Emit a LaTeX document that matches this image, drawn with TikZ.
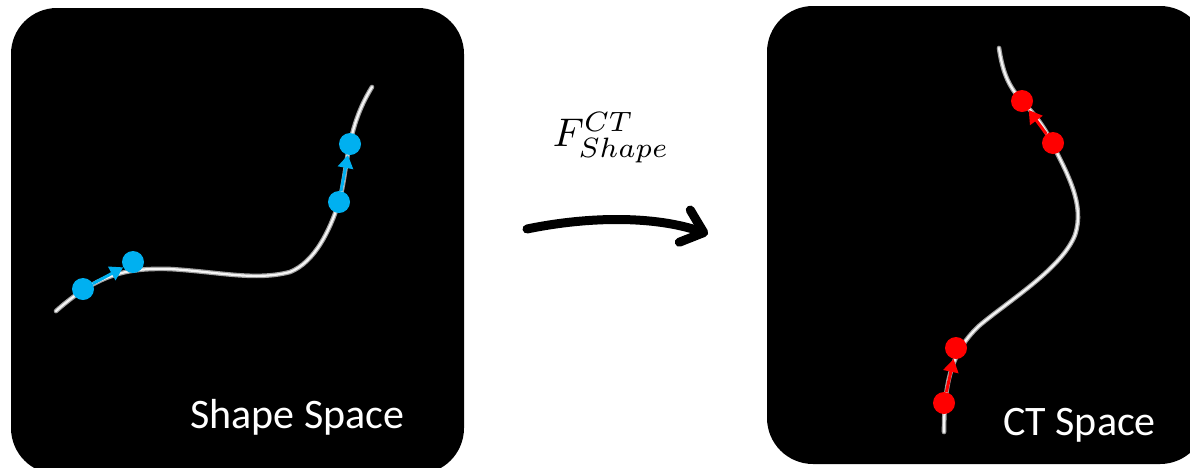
\documentclass[tikz,border=0pt]{standalone}
\usepackage{fontspec}
\setmainfont{Carlito}
\usetikzlibrary{arrows.meta}

\definecolor{dotblue}{HTML}{00B0F0}
\definecolor{dotred}{HTML}{FF0000}

\tikzset{
  panel/.style={fill=black, draw=none, rounded corners=46pt},
  tubeedge/.style={draw=gray!75, line width=4.6pt, line cap=round},
  tubecore/.style={draw=white!92!gray, line width=2.2pt, line cap=round},
  dotnode/.style={circle, inner sep=0pt, minimum size=22pt, draw=none},
  bluedot/.style={dotnode, fill=dotblue},
  reddot/.style={dotnode, fill=dotred},
  steparrow/.style={line width=3pt, -{Triangle[length=13pt,width=15pt]}},
  panellabel/.style={anchor=base west, text=white, inner sep=0pt,
    font=\fontsize{42}{50}\selectfont},
  maparrow/.style={line width=9pt, line cap=round,
    -{Straight Barb[length=20pt,width=34pt,round]}}
}

\begin{document}
\begin{tikzpicture}[x=1pt,y=-1pt]
  \useasboundingbox (0,0) rectangle (1190,467);
  \clip (0,0) rectangle (1190,467);

  % the two panels
  \path[panel] (11,8) rectangle (464,474);
  \path[panel] (767,6) rectangle (1206,464);

  % curve in shape space
  \foreach \s in {tubeedge,tubecore}
    \draw[\s] (56,311) .. controls (100,272) and (130,268) .. (170,269)
      .. controls (220,272) and (255,281) .. (290,272)
      .. controls (315,262) and (330,230) .. (339,202)
      .. controls (344,185) and (346,160) .. (350,143)
      .. controls (356,116) and (364,100) .. (372,87);

  % curve in CT space
  \foreach \s in {tubeedge,tubecore}
    \draw[\s] (999,48) .. controls (1003,75) and (1010,88) .. (1022,101)
      .. controls (1035,115) and (1044,126) .. (1052,143)
      .. controls (1068,175) and (1085,205) .. (1075,235)
      .. controls (1062,268) and (1010,300) .. (980,325)
      .. controls (955,348) and (944,375) .. (944,432);

  % sample points
  \node[bluedot] (b1) at (83,289) {};
  \node[bluedot] (b2) at (133,262) {};
  \node[bluedot] (b3) at (339,202) {};
  \node[bluedot] (b4) at (350,144) {};

  \node[reddot] (r1) at (1022,101) {};
  \node[reddot] (r2) at (1053,143) {};
  \node[reddot] (r3) at (956,348) {};
  \node[reddot] (r4) at (944,403) {};

  % displacements between points
  \draw[steparrow, dotblue] (b1) -- (b2);
  \draw[steparrow, dotblue] (b3) -- (b4);
  \draw[steparrow, dotred] (r2) -- (r1);
  \draw[steparrow, dotred] (r4) -- (r3);

  % panel captions
  \node[panellabel] (shapelabel) at (190,428) {Shape Space};
  \node[panellabel] (ctlabel) at (1003,435) {CT Space};

  % mapping between the spaces
  \coordinate (mapfrom) at (527,229);
  \coordinate (mapto) at (708,234);
  \draw[maparrow] (mapfrom) .. controls (590,216) and (655,216) .. (mapto);
  \node[anchor=base west, inner sep=0pt, scale=4]
    (maplabel) at (552,146) {$F^{CT}_{Shape}$};
\end{tikzpicture}
\end{document}
